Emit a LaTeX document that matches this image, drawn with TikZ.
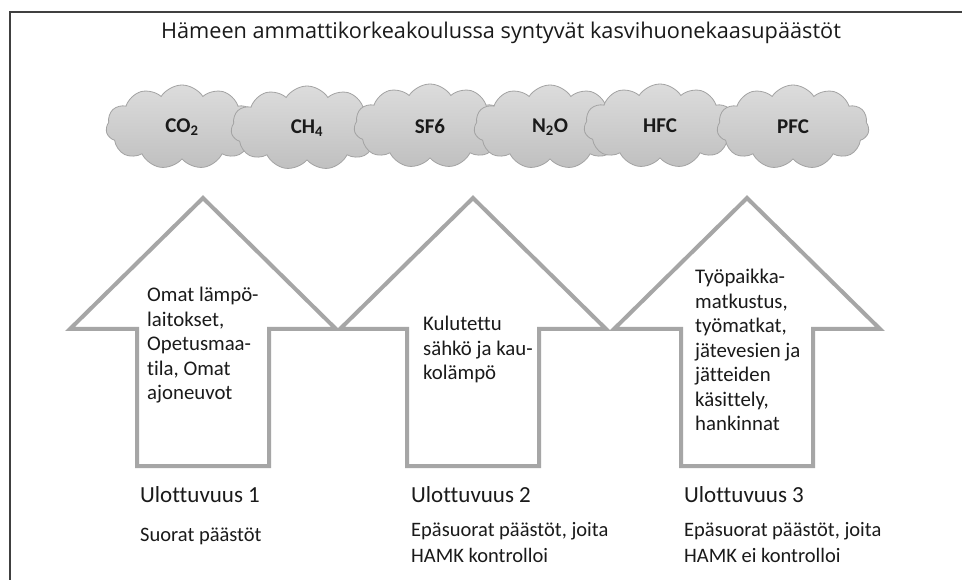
\documentclass[tikz,border=0pt]{standalone}
\usepackage{fontspec}
\setmainfont{Carlito}[Ligatures=NoCommon]
\newfontfamily\titlefont{Open Sans}
\usetikzlibrary{shapes.symbols}
\definecolor{framecol}{HTML}{404040}
\definecolor{arrowgray}{HTML}{A6A6A6}
\definecolor{cloudedge}{HTML}{A3A3A3}
\definecolor{cloudtop}{HTML}{DCDCDC}
\definecolor{cloudbot}{HTML}{C0C0C0}
\definecolor{txt}{HTML}{1A1A1A}
\newcommand{\hamkarrow}[1]{%
  \draw[arrowstyle] (#1,198) -- (#1+133,329) -- (#1+66,329) -- (#1+66,466)
    -- (#1-66,466) -- (#1-66,329) -- (#1-133,329) -- cycle;}
\begin{document}
\begin{tikzpicture}[x=1pt,y=-1pt,
  framestyle/.style={draw=framecol, line width=1.1pt},
  titletext/.style={font=\titlefont\fontsize{21.7}{26}\selectfont, text=txt, inner sep=0pt},
  cloudbox/.style={cloud, cloud puffs=11, cloud puff arc=115, aspect=1.8,
    minimum width=152pt, minimum height=84pt, draw=cloudedge, line width=0.8pt,
    top color=cloudtop, bottom color=cloudbot, text=txt, inner sep=0pt,
    font=\bfseries\fontsize{21}{24}\selectfont},
  arrowstyle/.style={draw=arrowgray, line width=4pt, fill=white, line join=miter},
  armtext/.style={font=\fontsize{20.8}{24.5}\selectfont, text=txt, align=left,
    inner sep=0pt, anchor=north west},
  dimtext/.style={font=\fontsize{23}{26}\selectfont, text=txt, inner sep=0pt, anchor=west},
  desctext/.style={font=\fontsize{20.5}{26}\selectfont, text=txt, align=left,
    inner sep=0pt, anchor=west}]
\useasboundingbox (0,0) rectangle (962,580);
\fill[white] (0,0) rectangle (962,580);
\coordinate (fr) at (962,12);
\coordinate (fc) at (10,12);
\coordinate (fb) at (10,580);
\draw[framestyle] (fr) -- (fc) -- (fb);
\node[titletext] (title) at (501,33) {Hämeen ammattikorkeakoulussa syntyvät kasvihuonekaasupäästöt};
% clouds
\node[cloudbox] (c1) at (182,127) {CO\textsubscript{2}};
\node[cloudbox] (c2) at (307,128) {CH\textsubscript{4}};
\node[cloudbox] (c3) at (430,126) {SF6};
\node[cloudbox] (c4) at (550,127) {N\textsubscript{2}O};
\node[cloudbox] (c5) at (660,126) {HFC};
\node[cloudbox] (c6) at (793,127) {PFC};
% arrows
\hamkarrow{203}
\hamkarrow{473}
\hamkarrow{747}
\node[armtext] (t1) at (147,287) {Omat lämpö-\\laitokset,\\Opetusmaa-\\tila, Omat\\ajoneuvot};
\node[armtext] (t2) at (423,316) {Kulutettu\\sähkö ja kau-\\kolämpö};
\node[armtext] (t3) at (695,269) {Työpaikka-\\matkustus,\\työmatkat,\\jätevesien ja\\jätteiden\\käsittely,\\hankinnat};
% dimensions
\node[dimtext] (u1) at (140,495) {Ulottuvuus 1};
\node[dimtext] (u2) at (411,495) {Ulottuvuus 2};
\node[dimtext] (u3) at (684,495) {Ulottuvuus 3};
\node[desctext] (d1) at (140,536) {Suorat päästöt};
\node[desctext] (d2) at (411,543) {Epäsuorat päästöt, joita\\HAMK kontrolloi};
\node[desctext] (d3) at (684,543) {Epäsuorat päästöt, joita\\HAMK ei kontrolloi};
\end{tikzpicture}
\end{document}
